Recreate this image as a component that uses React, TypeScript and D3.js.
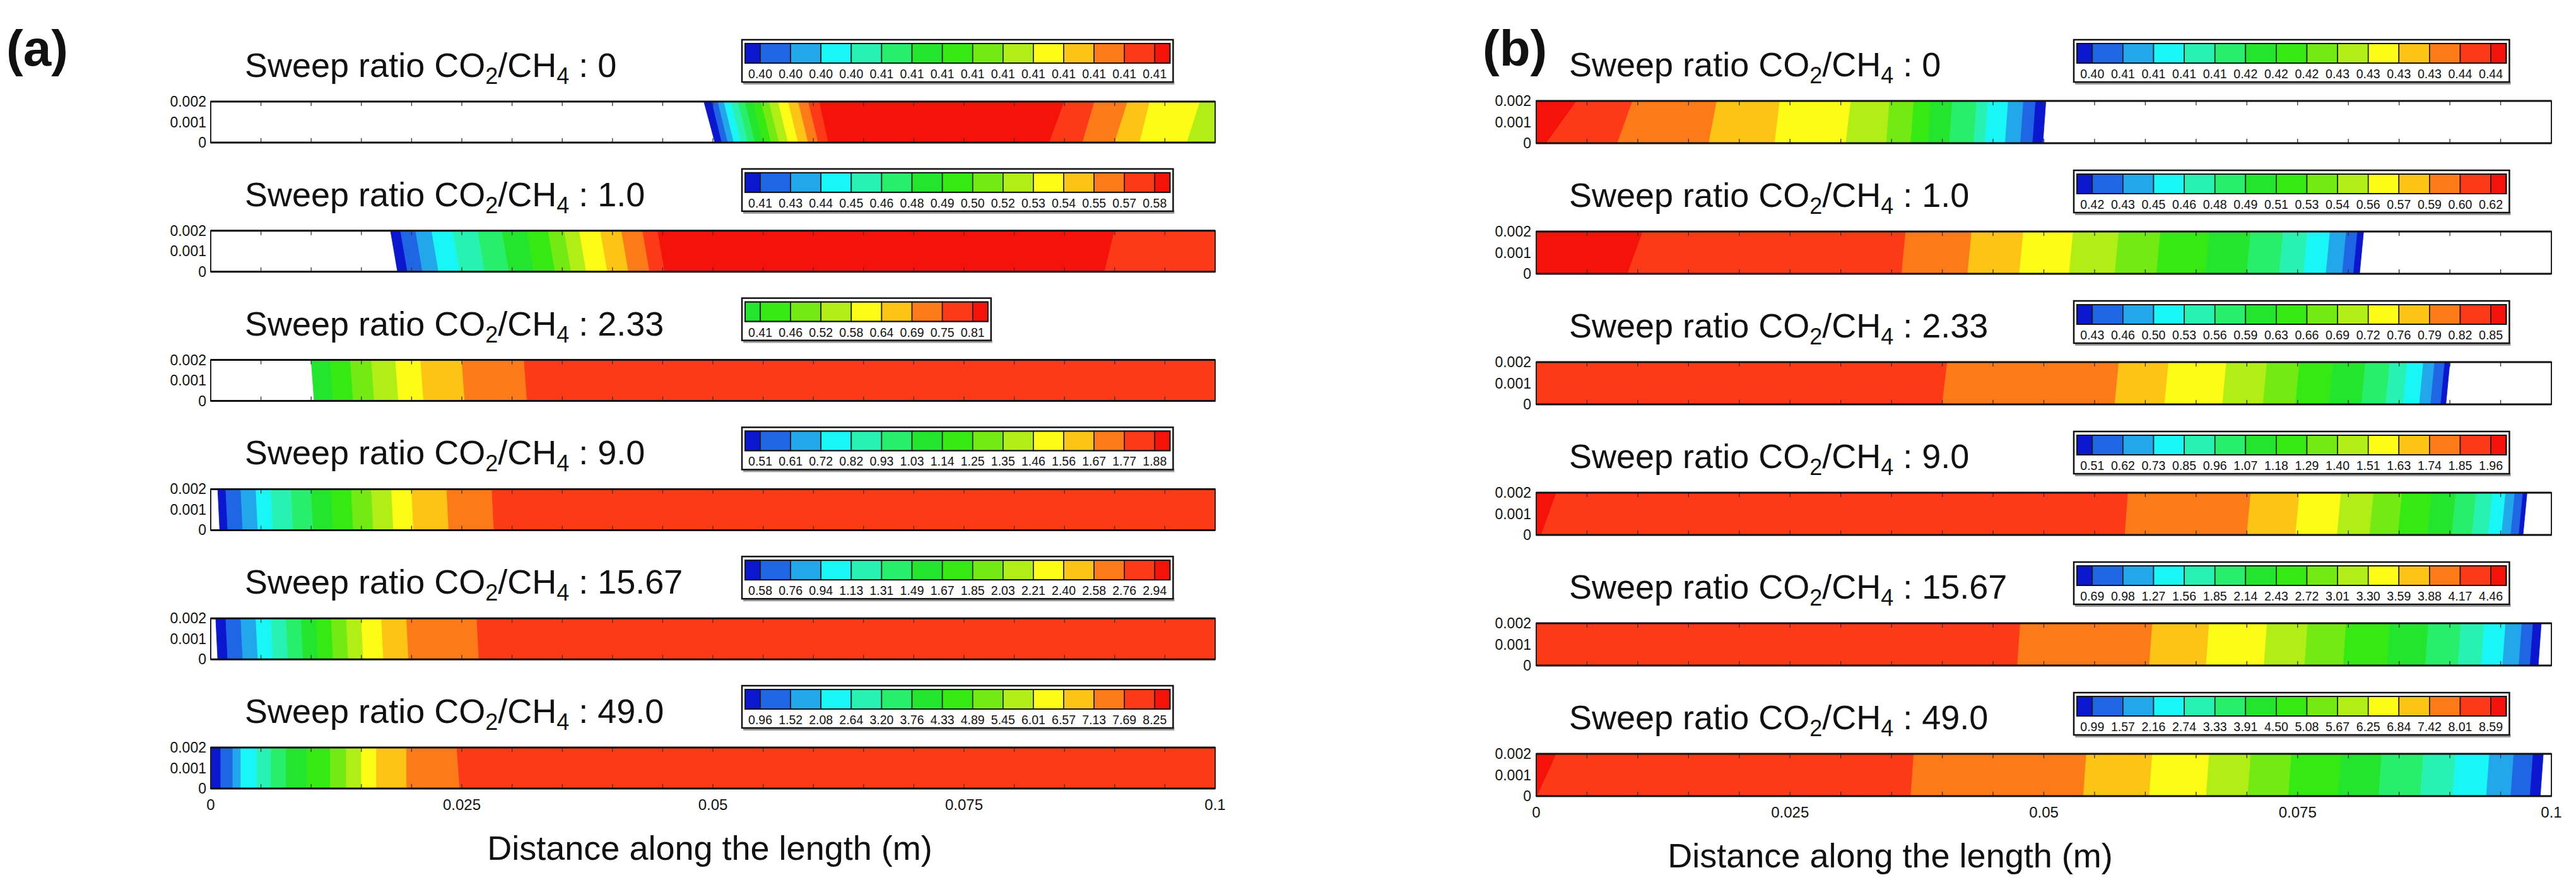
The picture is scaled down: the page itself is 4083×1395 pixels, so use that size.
import React from "react";
import * as d3 from "d3";

const FONT = "'Liberation Sans', Arial, Helvetica, sans-serif";

// Contour palette (15 levels, blue -> red)
const PALETTE = [
  "#0b16cf", "#1f66e4", "#22a8ea", "#18f6f6", "#27f2b2", "#27ef6c",
  "#24e52e", "#34ea12", "#74ea13", "#b1ee15", "#fcfc16", "#fcc414",
  "#fc7a18", "#fc3a18", "#f51208",
];

const SWEEP_RATIOS = ["0", "1.0", "2.33", "9.0", "15.67", "49.0"];
const X_TICK_VALUES = [0, 0.025, 0.05, 0.075, 0.1];
const X_TICK_LABELS = ["0", "0.025", "0.05", "0.075", "0.1"];
const Y_TICK_VALUES = [0.002, 0.001, 0];
const Y_TICK_LABELS = ["0.002", "0.001", "0"];
const MINOR_TICKS = [0.005, 0.01, 0.015, 0.02, 0.025, 0.03, 0.035, 0.04, 0.045, 0.05, 0.055, 0.06, 0.065, 0.07, 0.075, 0.08, 0.085, 0.09, 0.095];

// Legend labels
const LEGEND_A1 = ["0.40","0.40","0.40","0.40","0.41","0.41","0.41","0.41","0.41","0.41","0.41","0.41","0.41","0.41"];
const LEGEND_A2 = ["0.41","0.43","0.44","0.45","0.46","0.48","0.49","0.50","0.52","0.53","0.54","0.55","0.57","0.58"];
const LEGEND_A3 = ["0.41","0.46","0.52","0.58","0.64","0.69","0.75","0.81"];
const LEGEND_A4 = ["0.51","0.61","0.72","0.82","0.93","1.03","1.14","1.25","1.35","1.46","1.56","1.67","1.77","1.88"];
const LEGEND_A5 = ["0.58","0.76","0.94","1.13","1.31","1.49","1.67","1.85","2.03","2.21","2.40","2.58","2.76","2.94"];
const LEGEND_A6 = ["0.96","1.52","2.08","2.64","3.20","3.76","4.33","4.89","5.45","6.01","6.57","7.13","7.69","8.25"];
const LEGEND_B1 = ["0.40","0.41","0.41","0.41","0.41","0.42","0.42","0.42","0.43","0.43","0.43","0.43","0.44","0.44"];
const LEGEND_B2 = ["0.42","0.43","0.45","0.46","0.48","0.49","0.51","0.53","0.54","0.56","0.57","0.59","0.60","0.62"];
const LEGEND_B3 = ["0.43","0.46","0.50","0.53","0.56","0.59","0.63","0.66","0.69","0.72","0.76","0.79","0.82","0.85"];
const LEGEND_B4 = ["0.51","0.62","0.73","0.85","0.96","1.07","1.18","1.29","1.40","1.51","1.63","1.74","1.85","1.96"];
const LEGEND_B5 = ["0.69","0.98","1.27","1.56","1.85","2.14","2.43","2.72","3.01","3.30","3.59","3.88","4.17","4.46"];
const LEGEND_B6 = ["0.99","1.57","2.16","2.74","3.33","3.91","4.50","5.08","5.67","6.25","6.84","7.42","8.01","8.59"];
const LEGEND_START_A = [0, 0, 6, 0, 0, 0];

// Strip contour bands: colour index per band (-1 = uncoloured) and band edges (m) at top / bottom wall
const A1_COLORS = [-1,0,1,2,3,4,5,6,7,8,9,10,11,12,13,14,13,12,11,10,9];
const A1_TOP = [0.0491,0.0499,0.0505,0.0511,0.0518,0.0525,0.0532,0.0540,0.0548,0.0556,0.0565,0.0575,0.0585,0.0595,0.0606,0.0850,0.0880,0.0913,0.0935,0.0985];
const A1_BOT = [0.0502,0.0509,0.0515,0.0521,0.0528,0.0535,0.0542,0.0550,0.0558,0.0566,0.0575,0.0585,0.0595,0.0605,0.0615,0.0835,0.0868,0.0900,0.0925,0.0972];

const A2_COLORS = [-1,0,1,2,3,4,5,6,7,8,9,10,11,12,13,14,13];
const A2_TOP = [0.0179,0.0189,0.0204,0.0220,0.0241,0.0266,0.0290,0.0315,0.0336,0.0352,0.0367,0.0388,0.0409,0.0430,0.0445,0.0900];
const A2_BOT = [0.0186,0.0196,0.0211,0.0227,0.0248,0.0273,0.0297,0.0322,0.0343,0.0359,0.0374,0.0395,0.0416,0.0437,0.0452,0.0890];

const A3_COLORS = [-1,6,7,8,9,10,11,12,13];
const A3_TOP = [0.0100,0.0119,0.0139,0.0160,0.0184,0.0209,0.0250,0.0312];
const A3_BOT = [0.0103,0.0122,0.0142,0.0163,0.0187,0.0212,0.0253,0.0315];

const A4_COLORS = [-1,0,1,2,3,4,5,6,7,8,9,10,11,12,13];
const A4_TOP = [0.0007,0.0015,0.0030,0.0045,0.0060,0.0080,0.0100,0.0120,0.0140,0.0160,0.0180,0.0200,0.0235,0.0280];
const A4_BOT = [0.0009,0.0017,0.0032,0.0047,0.0062,0.0082,0.0102,0.0122,0.0142,0.0162,0.0182,0.0202,0.0237,0.0282];

const A5_COLORS = [-1,0,1,2,3,4,5,6,7,8,9,10,11,12,13];
const A5_TOP = [0.0005,0.0015,0.0030,0.0045,0.0060,0.0075,0.0090,0.0105,0.0120,0.0135,0.0150,0.0170,0.0195,0.0265];
const A5_BOT = [0.0007,0.0017,0.0032,0.0047,0.0062,0.0077,0.0092,0.0107,0.0122,0.0137,0.0152,0.0172,0.0197,0.0267];

const A6_COLORS = [0,1,2,3,4,5,6,7,8,9,10,11,12,13];
const A6_TOP = [0.0010,0.0022,0.0030,0.0046,0.0060,0.0075,0.0096,0.0119,0.0135,0.0150,0.0165,0.0195,0.0245];
const A6_BOT = [0.0010,0.0022,0.0030,0.0046,0.0060,0.0075,0.0096,0.0119,0.0135,0.0150,0.0165,0.0195,0.0248];

const B1_COLORS = [14,13,12,11,10,9,8,7,6,5,4,3,2,1,0,-1];
const B1_TOP = [0.0040,0.0095,0.0178,0.0240,0.0310,0.0348,0.0372,0.0389,0.0410,0.0434,0.0445,0.0465,0.0480,0.0492,0.0502];
const B1_BOT = [0.0010,0.0080,0.0170,0.0235,0.0305,0.0345,0.0369,0.0386,0.0407,0.0431,0.0442,0.0462,0.0477,0.0489,0.0499];

const B2_COLORS = [14,13,12,11,10,9,8,7,6,5,4,3,2,1,0,-1];
const B2_TOP = [0.0105,0.0364,0.0429,0.0480,0.0529,0.0574,0.0615,0.0663,0.0704,0.0736,0.0760,0.0782,0.0798,0.0809,0.0815];
const B2_BOT = [0.0090,0.0360,0.0425,0.0476,0.0525,0.0570,0.0611,0.0659,0.0700,0.0732,0.0756,0.0778,0.0794,0.0805,0.0811];

const B3_COLORS = [13,12,11,10,9,8,7,6,5,4,3,2,1,0,-1];
const B3_TOP = [0.0405,0.0574,0.0623,0.0680,0.0720,0.0752,0.0785,0.0817,0.0841,0.0858,0.0874,0.0885,0.0895,0.0900];
const B3_BOT = [0.0400,0.0570,0.0619,0.0676,0.0716,0.0748,0.0781,0.0813,0.0837,0.0854,0.0870,0.0881,0.0891,0.0896];

const B4_COLORS = [14,13,12,11,10,9,8,7,6,5,4,3,2,1,0,-1];
const B4_TOP = [0.0020,0.0583,0.0704,0.0752,0.0793,0.0825,0.0853,0.0882,0.0906,0.0926,0.0942,0.0955,0.0964,0.0972,0.0976];
const B4_BOT = [0.0005,0.0580,0.0700,0.0748,0.0789,0.0821,0.0849,0.0878,0.0902,0.0922,0.0938,0.0951,0.0960,0.0968,0.0972];

const B5_COLORS = [13,12,11,10,9,8,7,6,5,4,3,2,1,0,-1];
const B5_TOP = [0.0477,0.0607,0.0663,0.0720,0.0760,0.0798,0.0841,0.0879,0.0911,0.0934,0.0955,0.0971,0.0982,0.0990];
const B5_BOT = [0.0474,0.0604,0.0660,0.0717,0.0757,0.0795,0.0838,0.0876,0.0908,0.0931,0.0952,0.0968,0.0979,0.0987];

const B6_COLORS = [14,13,12,11,10,9,8,7,6,5,4,3,2,1,0,-1];
const B6_TOP = [0.0020,0.0372,0.0542,0.0607,0.0663,0.0704,0.0744,0.0793,0.0833,0.0874,0.0906,0.0939,0.0963,0.0982,0.0992];
const B6_BOT = [0.0001,0.0369,0.0539,0.0604,0.0660,0.0701,0.0741,0.0790,0.0830,0.0871,0.0903,0.0936,0.0960,0.0979,0.0989];

const STRIPS_A = [
  { colors: A1_COLORS, top: A1_TOP, bot: A1_BOT, legend: LEGEND_A1 },
  { colors: A2_COLORS, top: A2_TOP, bot: A2_BOT, legend: LEGEND_A2 },
  { colors: A3_COLORS, top: A3_TOP, bot: A3_BOT, legend: LEGEND_A3 },
  { colors: A4_COLORS, top: A4_TOP, bot: A4_BOT, legend: LEGEND_A4 },
  { colors: A5_COLORS, top: A5_TOP, bot: A5_BOT, legend: LEGEND_A5 },
  { colors: A6_COLORS, top: A6_TOP, bot: A6_BOT, legend: LEGEND_A6 },
];
const STRIPS_B = [
  { colors: B1_COLORS, top: B1_TOP, bot: B1_BOT, legend: LEGEND_B1 },
  { colors: B2_COLORS, top: B2_TOP, bot: B2_BOT, legend: LEGEND_B2 },
  { colors: B3_COLORS, top: B3_TOP, bot: B3_BOT, legend: LEGEND_B3 },
  { colors: B4_COLORS, top: B4_TOP, bot: B4_BOT, legend: LEGEND_B4 },
  { colors: B5_COLORS, top: B5_TOP, bot: B5_BOT, legend: LEGEND_B5 },
  { colors: B6_COLORS, top: B6_TOP, bot: B6_BOT, legend: LEGEND_B6 },
];

type Panel = {
  label: string; labelX: number;
  x0: number; x1: number; top0: number; step: number; h: number;
  legendX: number; legendTop0: number; legendStep: number; unit: number;
  titleX: number; yLabelX: number; axisTitleX: number;
};

const PANEL_A: Panel = {
  label: "(a)", labelX: 10,
  x0: 334, x1: 1926, top0: 161, step: 204.8, h: 65,
  legendX: 1181, legendTop0: 69, legendStep: 204.8, unit: 48.1,
  titleX: 388, yLabelX: 327, axisTitleX: 1125,
};
const PANEL_B: Panel = {
  label: "(b)", labelX: 2350,
  x0: 2435, x1: 4044, top0: 160, step: 207, h: 67,
  legendX: 3292, legendTop0: 69, legendStep: 207, unit: 48.6,
  titleX: 2487, yLabelX: 2427, axisTitleX: 2996,
};

function Legend({ x, y, unit, labels, start }: { x: number; y: number; unit: number; labels: string[]; start: number }) {
  const n = labels.length;
  const barW = unit * n;
  const barH = 31;
  const cells = d3.range(n + 1).map((i) => {
    const l = i === 0 ? 0 : (i - 0.5) * unit;
    const r = i === n ? barW : (i + 0.5) * unit;
    return { l, r, c: PALETTE[start + i] };
  });
  return (
    <g>
      <rect x={x - 3} y={y + 60} width={barW + 10} height={5} fill="#9a9a9a" />
      <rect x={x - 5} y={y - 6} width={barW + 10} height={67} fill="#fff" stroke="#111" strokeWidth={2.5} />
      {cells.map((c, i) => (
        <rect key={i} x={x + c.l} y={y} width={c.r - c.l} height={barH} fill={c.c} stroke="#1a1a1a" strokeWidth={1.6} />
      ))}
      <rect x={x} y={y} width={barW} height={barH} fill="none" stroke="#111" strokeWidth={2} />
      {labels.map((t, i) => (
        <text key={i} x={x + (i + 0.5) * unit} y={y + 55} textAnchor="middle" fontSize={19.5} fontFamily={FONT} fill="#111">{t}</text>
      ))}
    </g>
  );
}

function Strip({ p, row, colors, top, bot, showX }: { p: Panel; row: number; colors: number[]; top: number[]; bot: number[]; showX: boolean }) {
  const yTop = p.top0 + row * p.step;
  const yBot = yTop + p.h;
  const xs = d3.scaleLinear().domain([0, 0.1]).range([p.x0, p.x1]);
  const ys = d3.scaleLinear().domain([0, 0.002]).range([yBot, yTop]);
  const eT = [0, ...top, 0.1];
  const eB = [0, ...bot, 0.1];
  const area = d3
    .area<{ y: number; l: number; r: number }>()
    .y((d) => ys(d.y))
    .x0((d) => xs(d.l))
    .x1((d) => xs(d.r))
    .curve(d3.curveLinear);
  return (
    <g>
      <rect x={p.x0} y={yTop} width={p.x1 - p.x0} height={p.h} fill="#fff" />
      {colors.map((c, i) =>
        c < 0 ? null : (
          <path
            key={i}
            d={area([
              { y: 0, l: eB[i], r: eB[i + 1] },
              { y: 0.002, l: eT[i], r: eT[i + 1] },
            ]) || ""}
            fill={PALETTE[c]}
            stroke={PALETTE[c]}
            strokeWidth={0.8}
          />
        )
      )}
      {MINOR_TICKS.map((t, i) => (
        <g key={i} stroke="#333" strokeWidth={1.3}>
          <line x1={xs(t)} x2={xs(t)} y1={yBot} y2={yBot - 7} />
          <line x1={xs(t)} x2={xs(t)} y1={yTop} y2={yTop + 7} />
        </g>
      ))}
      <rect x={p.x0} y={yTop} width={p.x1 - p.x0} height={p.h} fill="none" stroke="#222" strokeWidth={2} />
      <line x1={p.x0} x2={p.x1} y1={yTop} y2={yTop} stroke="#111" strokeWidth={3} />
      <line x1={p.x0} x2={p.x1} y1={yBot} y2={yBot} stroke="#111" strokeWidth={3} />
      {Y_TICK_VALUES.map((v, i) => (
        <text key={i} x={p.yLabelX} y={ys(v) + 8} textAnchor="end" fontSize={23} fontFamily={FONT} fill="#111">{Y_TICK_LABELS[i]}</text>
      ))}
      {showX &&
        X_TICK_VALUES.map((v, i) => (
          <text key={i} x={xs(v)} y={yBot + 34} textAnchor="middle" fontSize={24} fontFamily={FONT} fill="#111">{X_TICK_LABELS[i]}</text>
        ))}
    </g>
  );
}

function Title({ x, y, ratio }: { x: number; y: number; ratio: string }) {
  return (
    <text x={x} y={y} fontSize={54} fontFamily={FONT} fill="#111">
      Sweep ratio CO
      <tspan fontSize={36} dy={11}>2</tspan>
      <tspan dy={-11}>/CH</tspan>
      <tspan fontSize={36} dy={11}>4</tspan>
      <tspan dy={-11}>{" : " + ratio}</tspan>
    </text>
  );
}

function PanelView({ p, strips }: { p: Panel; strips: typeof STRIPS_A }) {
  const lastBot = p.top0 + 5 * p.step + p.h;
  return (
    <g>
      <text x={p.labelX} y={104} fontSize={80} fontWeight="bold" fontFamily={FONT} fill="#111">{p.label}</text>
      {strips.map((s, i) => (
        <g key={i}>
          <Title x={p.titleX} y={p.top0 + i * p.step - 39} ratio={SWEEP_RATIOS[i]} />
          <Legend
            x={p.legendX}
            y={p.legendTop0 + i * p.legendStep}
            unit={p.unit}
            labels={s.legend}
            start={p === PANEL_A ? LEGEND_START_A[i] : 0}
          />
          <Strip p={p} row={i} colors={s.colors} top={s.top} bot={s.bot} showX={i === 5} />
        </g>
      ))}
      <text x={p.axisTitleX} y={lastBot + 113} textAnchor="middle" fontSize={54} fontFamily={FONT} fill="#111">
        Distance along the length (m)
      </text>
    </g>
  );
}

export default function App() {
  return (
    <svg width={4083} height={1395} viewBox="0 0 4083 1395" style={{ display: "block", background: "#fff", margin: -8 }}>
      <rect x={0} y={0} width={4083} height={1395} fill="#fff" />
      <PanelView p={PANEL_A} strips={STRIPS_A} />
      <PanelView p={PANEL_B} strips={STRIPS_B} />
    </svg>
  );
}
